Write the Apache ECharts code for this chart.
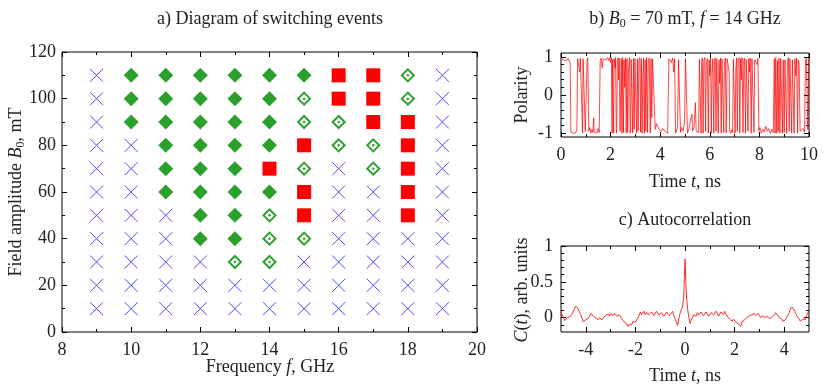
<!DOCTYPE html>
<html>
<head>
<meta charset="utf-8">
<script src="https://cdn.jsdelivr.net/npm/echarts@6/dist/echarts.min.js"></script>
<style>
html, body { margin: 0; padding: 0; background: #fff; }
#main { width: 830px; height: 388px; }
</style>
</head>
<body>
<div id="main"></div>
<script>
// a) switching diagram: columns = frequency, rows = field amplitude (top row first)
// X = no switching, D = filled diamond, O = open diamond, S = red square
var frequencies = [9, 10, 11, 12, 13, 14, 15, 16, 17, 18, 19];
var fields = [110, 100, 90, 80, 70, 60, 50, 40, 30, 20, 10];
var stateRows = [
	'XDDDDDDSSOX',
	'XDDDDDOSSOX',
	'XDDDDDOOSSX',
	'XXDDDDSOOSX',
	'XXDDDSOXOSX',
	'XXDDDDSXXSX',
	'XXXDDOSXXSX',
	'XXXDDOOXXXX',
	'XXXXOOXXXXX',
	'XXXXXXXXXXX',
	'XXXXXXXXXXX'
];
var freqTicks = [8, 10, 12, 14, 16, 18, 20];
var fieldTicks = [0, 20, 40, 60, 80, 100, 120];

// b) polarity vs time (ns)
var polarity = [
	[0.00, 0.95], [0.05, 0.98], [0.10, 0.92], [0.15, 0.97], [0.22, 0.90], [0.28, 0.96], [0.33, 0.93], [0.37, 0.85],
	[0.40, -0.97], [0.45, -0.92], [0.50, -1.0], [0.55, -0.95], [0.60, -0.98], [0.64, -0.90], [0.67, 0.95], [0.72, 0.98],
	[0.76, 0.6], [0.78, 0.97], [0.84, 0.92], [0.87, -1.0], [0.89, 0.95], [0.93, 0.98], [0.98, -0.95], [1.02, -1.0],
	[1.05, 0.9], [1.08, 0.97], [1.12, -0.95], [1.16, -0.85], [1.20, -1.0], [1.25, -0.9], [1.28, -0.98], [1.32, -0.6],
	[1.34, -0.97], [1.40, -0.92], [1.45, -1.0], [1.50, -0.88], [1.54, -0.98], [1.58, 0.9], [1.62, 0.97], [1.66, 0.7],
	[1.70, 0.95], [1.76, 0.98], [1.82, 0.92], [1.88, 0.98], [1.92, 0.9], [1.96, 0.97], [2.00, 0.85], [2.03, 0.98],
	[2.06, -1.0], [2.08, 0.93], [2.12, -1.0], [2.14, 0.95], [2.18, 0.7], [2.20, 0.98], [2.23, -1.0], [2.25, -0.9],
	[2.27, 0.9], [2.30, 0.97], [2.32, 0.4], [2.35, 0.97], [2.38, -0.95], [2.40, -1.0], [2.43, 0.95], [2.46, -1.0],
	[2.48, 0.98], [2.52, -0.98], [2.54, 0.92], [2.57, 0.2], [2.60, 0.97], [2.63, -1.0], [2.66, 0.95], [2.69, -0.98],
	[2.72, 0.6], [2.76, 0.98], [2.79, -1.0], [2.81, -0.9], [2.83, 0.93], [2.86, 0.97], [2.89, -1.0], [2.92, 0.96],
	[2.95, -0.9], [2.98, 0.95], [3.02, 0.98], [3.05, -1.0], [3.08, 0.95], [3.11, -0.95], [3.14, 0.9], [3.18, 0.98],
	[3.21, -0.97], [3.24, 0.95], [3.27, -1.0], [3.30, 0.5], [3.33, 0.97], [3.36, -1.0], [3.39, 0.92], [3.42, -0.95],
	[3.45, 0.98], [3.49, -0.98], [3.52, 0.9], [3.56, 0.97], [3.60, -1.0], [3.63, 0.95], [3.66, -0.6], [3.69, 0.95],
	[3.75, 0.98], [3.80, -0.9], [3.85, -0.75], [3.90, -0.8], [3.95, -0.9], [4.00, -0.85], [4.05, -0.95], [4.10, -0.88],
	[4.15, -0.92], [4.20, -0.95], [4.25, -0.9], [4.30, -1.0], [4.35, 0.95], [4.40, 0.98], [4.45, 0.85], [4.50, 0.97],
	[4.55, 0.6], [4.58, 0.95], [4.62, -1.0], [4.66, -0.95], [4.70, -0.85], [4.74, 0.92], [4.78, 0.97], [4.82, -0.98],
	[4.86, -0.85], [4.92, -0.95], [4.98, -0.75], [5.02, 0.95], [5.06, 0.98], [5.10, -1.0], [5.15, -0.9], [5.22, -0.95],
	[5.28, -0.5], [5.30, -0.95], [5.36, -0.85], [5.42, -0.2], [5.45, -0.95], [5.50, -0.9], [5.55, -0.98], [5.58, 0.93],
	[5.62, 0.98], [5.65, -1.0], [5.67, 0.85], [5.70, 0.97], [5.73, -1.0], [5.76, 0.9], [5.80, 0.98], [5.83, -0.95],
	[5.86, 0.8], [5.90, 0.96], [5.94, -1.0], [5.97, 0.92], [6.00, 0.5], [6.03, 0.98], [6.06, -1.0], [6.09, 0.6],
	[6.12, 0.95], [6.16, -1.0], [6.19, 0.9], [6.22, 0.97], [6.25, -0.95], [6.28, 0.95], [6.31, 0.98], [6.34, -1.0],
	[6.37, 0.92], [6.40, 0.3], [6.43, 0.97], [6.46, -1.0], [6.49, 0.95], [6.53, 0.98], [6.56, -0.98], [6.59, 0.9],
	[6.63, 0.97], [6.66, -1.0], [6.70, 0.95], [6.74, 0.98], [6.78, 0.6], [6.80, -0.9], [6.84, -1.0], [6.88, -0.92],
	[6.92, -0.98], [6.95, 0.95], [6.98, 0.98], [7.02, -1.0], [7.05, 0.7], [7.08, 0.97], [7.11, -0.95], [7.14, 0.92],
	[7.18, 0.98], [7.21, -1.0], [7.24, 0.95], [7.27, 0.4], [7.30, 0.98], [7.34, -0.98], [7.37, 0.9], [7.40, 0.97],
	[7.44, -1.0], [7.47, 0.93], [7.50, 0.98], [7.54, -0.95], [7.57, 0.95], [7.60, 0.6], [7.63, 0.97], [7.67, -1.0],
	[7.70, 0.95], [7.74, 0.98], [7.78, -0.98], [7.81, 0.92], [7.86, 0.97], [7.90, 0.8], [7.94, 0.96], [7.98, -0.95],
	[8.02, -0.85], [8.08, -1.0], [8.14, -0.9], [8.20, -0.97], [8.26, -0.82], [8.32, -0.95], [8.38, -0.88], [8.44, -1.0],
	[8.50, -0.9], [8.56, -0.98], [8.60, 0.95], [8.63, -1.0], [8.66, 0.98], [8.70, -1.0], [8.73, 0.9], [8.76, -0.95],
	[8.79, 0.97], [8.83, -1.0], [8.86, 0.95], [8.90, 0.98], [8.93, -1.0], [8.96, 0.92], [9.00, -0.98], [9.03, 0.92],
	[9.07, 0.97], [9.10, -1.0], [9.13, 0.9], [9.17, 0.98], [9.20, -0.95], [9.23, 0.95], [9.27, 0.98], [9.30, -1.0],
	[9.33, 0.92], [9.37, 0.97], [9.40, -1.0], [9.43, 0.95], [9.47, 0.5], [9.50, 0.97], [9.54, -1.0], [9.57, 0.92],
	[9.60, 0.85], [9.64, -0.95], [9.70, -1.0], [9.76, -0.88], [9.82, -0.97], [9.86, 0.9], [9.90, 0.97], [9.95, -0.9],
	[10.0, 0.95]
];

// c) autocorrelation C(t), t in ns
var autocorr = [
	[-5.00, 0.09], [-4.95, 0.04], [-4.90, 0.00], [-4.85, -0.04], [-4.80, -0.03], [-4.75, 0.00], [-4.70, -0.02], [-4.65, 0.01],
	[-4.60, 0.03], [-4.55, 0.05], [-4.50, 0.09], [-4.45, 0.13], [-4.40, 0.16], [-4.35, 0.14], [-4.30, 0.12], [-4.25, 0.07],
	[-4.20, 0.04], [-4.15, -0.01], [-4.10, -0.06], [-4.05, -0.05], [-4.00, -0.03], [-3.95, -0.05], [-3.90, -0.01], [-3.85, 0.02],
	[-3.80, 0.06], [-3.75, 0.04], [-3.70, 0.02], [-3.65, 0.03], [-3.60, 0.00], [-3.55, -0.01], [-3.50, -0.03], [-3.45, 0.00],
	[-3.40, -0.01], [-3.35, -0.03], [-3.30, 0.00], [-3.25, 0.01], [-3.20, 0.03], [-3.15, 0.01], [-3.10, 0.05], [-3.05, 0.02],
	[-3.00, 0.06], [-2.95, 0.04], [-2.90, 0.03], [-2.85, 0.06], [-2.80, 0.05], [-2.75, 0.02], [-2.70, 0.02], [-2.65, 0.04],
	[-2.60, 0.01], [-2.55, -0.01], [-2.50, -0.04], [-2.45, -0.06], [-2.40, -0.07], [-2.35, -0.09], [-2.30, -0.12], [-2.25, -0.09],
	[-2.20, -0.08], [-2.15, -0.10], [-2.10, -0.05], [-2.05, -0.07], [-2.00, -0.06], [-1.95, -0.03], [-1.90, -0.02], [-1.85, 0.03],
	[-1.80, 0.08], [-1.75, 0.04], [-1.70, 0.06], [-1.65, 0.09], [-1.60, 0.04], [-1.55, 0.07], [-1.50, 0.08], [-1.45, 0.04],
	[-1.40, 0.03], [-1.35, 0.08], [-1.30, 0.07], [-1.25, 0.03], [-1.20, 0.05], [-1.15, 0.09], [-1.10, 0.08], [-1.05, 0.04],
	[-1.00, 0.03], [-0.95, 0.07], [-0.90, 0.06], [-0.85, 0.02], [-0.80, 0.04], [-0.75, 0.08], [-0.70, 0.07], [-0.65, 0.03],
	[-0.60, 0.02], [-0.55, 0.06], [-0.50, 0.09], [-0.45, 0.03], [-0.40, -0.02], [-0.35, -0.06], [-0.30, -0.11], [-0.25, -0.02],
	[-0.20, 0.06], [-0.15, 0.11], [-0.10, 0.15], [-0.05, 0.30], [0.00, 0.82], [0.05, 0.35], [0.10, 0.13], [0.15, 0.02],
	[0.20, -0.08], [0.25, -0.04], [0.30, -0.02], [0.35, 0.04], [0.40, 0.05], [0.45, 0.02], [0.50, 0.07], [0.55, 0.04],
	[0.60, 0.03], [0.65, 0.08], [0.70, 0.07], [0.75, 0.03], [0.80, 0.04], [0.85, 0.08], [0.90, 0.06], [0.95, 0.02],
	[1.00, 0.03], [1.05, 0.07], [1.10, 0.08], [1.15, 0.04], [1.20, 0.05], [1.25, 0.09], [1.30, 0.06], [1.35, 0.02],
	[1.40, 0.03], [1.45, 0.08], [1.50, 0.07], [1.55, 0.04], [1.60, 0.09], [1.65, 0.05], [1.70, 0.02], [1.75, 0.01],
	[1.80, -0.02], [1.85, -0.04], [1.90, -0.05], [1.95, -0.02], [2.00, -0.04], [2.05, -0.06], [2.10, -0.07], [2.15, -0.09],
	[2.20, -0.11], [2.25, -0.12], [2.30, -0.06], [2.35, -0.07], [2.40, -0.03], [2.45, -0.01], [2.50, 0.00], [2.55, 0.02],
	[2.60, 0.03], [2.65, 0.01], [2.70, 0.04], [2.75, 0.06], [2.80, 0.06], [2.85, 0.03], [2.90, 0.05], [2.95, 0.06],
	[3.00, 0.03], [3.05, 0.00], [3.10, 0.01], [3.15, 0.03], [3.20, 0.00], [3.25, -0.01], [3.30, 0.02], [3.35, 0.00],
	[3.40, -0.01], [3.45, 0.01], [3.50, 0.00], [3.55, 0.02], [3.60, 0.04], [3.65, 0.07], [3.70, 0.06], [3.75, 0.03],
	[3.80, 0.00], [3.85, -0.01], [3.90, -0.02], [3.95, -0.05], [4.00, -0.06], [4.05, -0.03], [4.10, -0.02], [4.15, 0.03],
	[4.20, 0.07], [4.25, 0.12], [4.30, 0.15], [4.35, 0.14], [4.40, 0.11], [4.45, 0.07], [4.50, 0.03], [4.55, 0.01],
	[4.60, -0.02], [4.65, -0.05], [4.70, -0.04], [4.75, -0.02], [4.80, -0.01], [4.85, -0.03], [4.90, 0.03], [4.95, 0.05],
	[5.00, 0.09]
];

var serif = 'Liberation Serif';
var ink = '#222';
var fs = 18;

//拆分状态
var crosses = [], filled = [], open = [], squares = [];
stateRows.forEach(function(row, r) {
	row.split('').forEach(function(c, i) {
		var p = [frequencies[i], fields[r]];
		if (c == 'X') crosses.push(p);
		if (c == 'D') filled.push(p);
		if (c == 'O') open.push(p);
		if (c == 'S') squares.push(p);
	});
});

// one tick-only axis (ticks inside, no line; the grid border draws the box)
function axis(grid, pos, min, max, opt) {
	opt = opt || {};
	var a = {
		type: 'value', gridIndex: grid, position: pos, min: min, max: max,
		axisLine: { show: false, onZero: false },
		splitLine: { show: false },
		axisTick: { show: true, inside: true, length: opt.len || 5, lineStyle: { color: '#000', width: 1 } },
		axisLabel: { show: !!opt.label, fontFamily: serif, fontSize: fs, color: ink, margin: opt.margin || 8 }
	};
	if (opt.interval) a.interval = opt.interval;
	if (opt.minor) a.minorTick = { show: true, splitNumber: opt.minor, length: 3, lineStyle: { color: '#000', width: 1 } };
	if (opt.ticks) a.axisTick.customValues = opt.ticks;
	if (opt.labels) a.axisLabel.customValues = opt.labels;
	return a;
}

var rich = {
	n: { fontFamily: serif, fontSize: fs, color: ink },
	i: { fontFamily: serif, fontSize: fs, fontStyle: 'italic', color: ink },
	s: { fontFamily: serif, fontSize: 12, color: ink, padding: [10, 0, 0, 0] }
};

function label(x, y, text, rot) {
	return {
		type: 'text', x: x, y: y, rotation: rot || 0,
		style: { text: text, rich: rich, fontFamily: serif, fontSize: fs, fill: ink, textAlign: 'center', textVerticalAlign: 'middle' }
	};
}

var green = '#2ca02c';
var gridStyle = { show: true, borderColor: '#000', borderWidth: 1, backgroundColor: 'transparent', outerBoundsMode: 'none' };

var option = {
	animation: false,
	grid: [
		Object.assign({ left: 62, top: 52, width: 415, height: 280 }, gridStyle),
		Object.assign({ left: 561, top: 53, width: 248, height: 84 }, gridStyle),
		Object.assign({ left: 561, top: 246, width: 248, height: 86 }, gridStyle)
	],
	xAxis: [
		axis(0, 'bottom', freqTicks[0], freqTicks[freqTicks.length - 1], { interval: 2, minor: 2, label: true, margin: 9 }),
		axis(0, 'top', 8, 20, { interval: 2, minor: 2 }),
		axis(1, 'bottom', 0, 10, { interval: 2, minor: 2, label: true, margin: 9 }),
		axis(1, 'top', 0, 10, { interval: 2, minor: 2 }),
		axis(2, 'bottom', -5, 5, { ticks: [-4, -2, 0, 2, 4], labels: [-4, -2, 0, 2, 4], label: true, margin: 9 }),
		axis(2, 'bottom', -5, 5, { ticks: [-3, -1, 1, 3], len: 3 }),
		axis(2, 'top', -5, 5, { ticks: [-4, -2, 0, 2, 4] }),
		axis(2, 'top', -5, 5, { ticks: [-3, -1, 1, 3], len: 3 })
	],
	yAxis: [
		axis(0, 'left', fieldTicks[0], fieldTicks[fieldTicks.length - 1], { interval: 20, minor: 2, label: true, margin: 6 }),
		axis(0, 'right', 0, 120, { interval: 20, minor: 2 }),
		axis(1, 'left', -1.1, 1.1, { ticks: [-1, 0, 1], labels: [-1, 0, 1], label: true, margin: 8 }),
		axis(1, 'left', -1.1, 1.1, { ticks: [-0.8, -0.6, -0.4, -0.2, 0.2, 0.4, 0.6, 0.8], len: 3 }),
		axis(1, 'right', -1.1, 1.1, { ticks: [-1, 0, 1] }),
		axis(1, 'right', -1.1, 1.1, { ticks: [-0.8, -0.6, -0.4, -0.2, 0.2, 0.4, 0.6, 0.8], len: 3 }),
		axis(2, 'left', -0.2, 1, { ticks: [0, 0.5, 1], labels: [0, 0.5, 1], label: true, margin: 8 }),
		axis(2, 'left', -0.2, 1, { ticks: [-0.1, 0.1, 0.2, 0.3, 0.4, 0.6, 0.7, 0.8, 0.9], len: 3 }),
		axis(2, 'right', -0.2, 1, { ticks: [0, 0.5, 1] }),
		axis(2, 'right', -0.2, 1, { ticks: [-0.1, 0.1, 0.2, 0.3, 0.4, 0.6, 0.7, 0.8, 0.9], len: 3 })
	],
	series: [
		{
			type: 'scatter', xAxisIndex: 0, yAxisIndex: 0, data: crosses,
			symbol: 'path://M0,0L10,10M10,0L0,10', symbolSize: 13,
			itemStyle: { color: 'none', borderColor: '#4b4bff', borderWidth: 1, opacity: 1 }
		},
		{
			type: 'scatter', xAxisIndex: 0, yAxisIndex: 0, data: filled,
			symbol: 'diamond', symbolSize: 15, itemStyle: { color: green, opacity: 1 }
		},
		{
			type: 'scatter', xAxisIndex: 0, yAxisIndex: 0, data: open,
			symbol: 'diamond', symbolSize: 12, itemStyle: { color: '#fff', borderColor: green, borderWidth: 2, opacity: 1 }
		},
		{
			type: 'scatter', xAxisIndex: 0, yAxisIndex: 0, data: open,
			symbol: 'circle', symbolSize: 2.5, itemStyle: { color: green, opacity: 1 }
		},
		{
			type: 'scatter', xAxisIndex: 0, yAxisIndex: 0, data: squares,
			symbol: 'rect', symbolSize: 14, itemStyle: { color: '#ff0000', opacity: 1 }
		},
		{
			type: 'line', xAxisIndex: 2, yAxisIndex: 2, data: polarity,
			showSymbol: false, lineStyle: { color: 'rgba(255,0,0,0.8)', width: 0.9 }
		},
		{
			type: 'line', xAxisIndex: 4, yAxisIndex: 6, data: autocorr,
			showSymbol: false, lineStyle: { color: '#ff2a2a', width: 1 }
		}
	],
	graphic: [
		label(270, 19, 'a) Diagram of switching events'),
		label(270, 367, '{n|Frequency }{i|f}{n|, GHz}'),
		label(16, 192, '{n|Field amplitude }{i|B}{s|0}{n|, mT}', Math.PI / 2),
		label(685, 19, '{n|b) }{i|B}{s|0}{n| = 70 mT, }{i|f}{n| = 14 GHz}'),
		label(522, 95, 'Polarity', Math.PI / 2),
		label(685, 182, '{n|Time }{i|t}{n|, ns}'),
		label(685, 220, 'c) Autocorrelation'),
		label(522, 290, '{i|C}{n|(}{i|t}{n|), arb. units}', Math.PI / 2),
		label(685, 376, '{n|Time }{i|t}{n|, ns}')
	]
};

var chart = echarts.init(document.getElementById('main'));
chart.setOption(option);
</script>
</body>
</html>
